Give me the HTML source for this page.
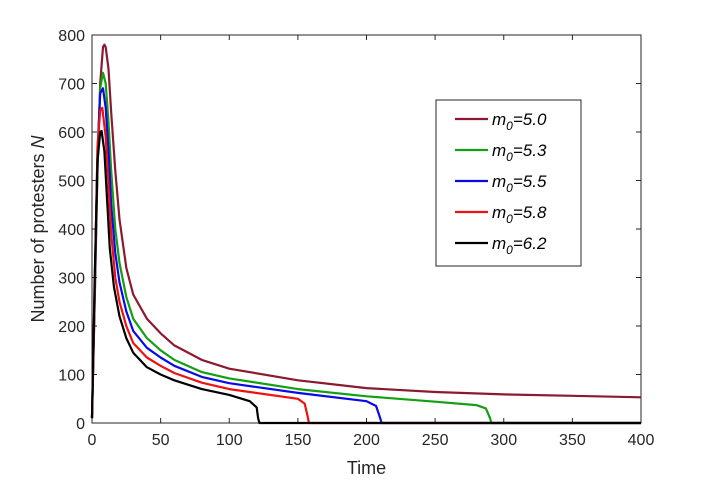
<!DOCTYPE html>
<html><head><meta charset="utf-8"><style>
body{margin:0;background:#fff}
svg{display:block;font-family:"Liberation Sans",Arial,sans-serif}
</style></head><body>
<svg width="710" height="481" viewBox="0 0 710 481">
<rect width="710" height="481" fill="#fff"/>
<g id="axes"></g>
<g id="series"></g>
<g id="legend"></g>
</svg>
<script>
const xTicks=[0,50,100,150,200,250,300,350,400];
const yTicks=[0,100,200,300,400,500,600,700,800];
const labels=["5.0","5.3","5.5","5.8","6.2"];
const colors=["#8b1a2e","#12a012","#0a0ae6","#ee1111","#000000"];
const t50=[0,2,4,6,8,9,10,12,14,17,20,25,30,40,50,60,80,100,150,200,250,300,350,400];
const v50=[10,250,520,700,775,780,775,730,640,520,420,320,265,215,185,160,130,112,88,72,64,59,56,53];
const t53=[0,2,4,6,8,10,12,14,17,20,25,30,40,50,60,80,100,150,200,250,280,287,290,291,400];
const v53=[10,260,540,690,722,700,620,520,400,330,260,215,175,150,130,105,92,70,55,44,37,30,10,0,0];
const t55=[0,2,4,6,8,10,12,14,17,20,25,30,40,50,60,80,100,150,200,207,210,211,400];
const v55=[10,270,560,680,690,650,560,450,350,290,230,190,155,135,118,95,82,62,45,35,10,0,0];
const t58=[0,2,4,6,7.5,10,12,14,17,20,25,30,40,50,60,80,100,150,155,157,158,400];
const v58=[10,280,570,645,650,590,490,390,300,250,200,165,135,118,103,83,70,50,40,15,0,0];
const t62=[0,2,4,6,7,9,11,13,16,20,25,30,40,50,60,80,100,115,120,121,122,400];
const v62=[10,300,540,600,602,560,460,360,280,220,175,145,115,100,88,70,58,45,32,10,0,0];
const X0=92,X1=641,Y0=423,Y1=35;
const xs=t=>X0+(t/400)*(X1-X0);
const ys=v=>Y0-(v/800)*(Y0-Y1);
const NS="http://www.w3.org/2000/svg";
function mk(tag,attrs,parent){const e=document.createElementNS(NS,tag);for(const k in attrs)e.setAttribute(k,attrs[k]);parent.appendChild(e);return e;}
const ax=document.getElementById("axes");
let box=mk("rect",{x:X0,y:Y1,width:X1-X0,height:Y0-Y1,fill:"none",stroke:"#262626","stroke-width":1},ax);


xTicks.forEach(t=>{
  const x=xs(t);
  mk("line",{x1:x,x2:x,y1:Y0,y2:Y0-5,stroke:"#262626"},ax);
  mk("line",{x1:x,x2:x,y1:Y1,y2:Y1+5,stroke:"#262626"},ax);
  const tx=mk("text",{x:x,y:Y0+22,"text-anchor":"middle","font-size":16,fill:"#262626"},ax);
  tx.textContent=t;
  
  
});
yTicks.forEach(v=>{
  const y=ys(v);
  mk("line",{x1:X0,x2:X0+5,y1:y,y2:y,stroke:"#262626"},ax);
  mk("line",{x1:X1,x2:X1-5,y1:y,y2:y,stroke:"#262626"},ax);
  const tx=mk("text",{x:X0-7,y:y+6,"text-anchor":"end","font-size":16,fill:"#262626"},ax);
  tx.textContent=v;
  
  
});
let xt=mk("text",{x:(X0+X1)/2,y:474,"text-anchor":"middle","font-size":18,fill:"#262626"},ax);
xt.textContent="Time";


let yt=mk("text",{x:0,y:0,"text-anchor":"middle","font-size":18,fill:"#262626",transform:"translate(44,229) rotate(-90)"},ax);
yt.innerHTML='Number of protesters  <tspan font-style="italic">N</tspan>';


const sg=document.getElementById("series");
const data=[[t50,v50],[t53,v53],[t55,v55],[t58,v58],[t62,v62]];
data.forEach((d,i)=>{
  const pts=d[0].map((t,j)=>xs(t).toFixed(1)+","+ys(d[1][j]).toFixed(1)).join(" ");
  const p=mk("polyline",{points:pts,fill:"none",stroke:colors[i],"stroke-width":2.2,"stroke-linejoin":"round"},sg);
  
  
});
const lg=document.getElementById("legend");
let lb=mk("rect",{x:436,y:100,width:145,height:166,fill:"#fff",stroke:"#262626"},lg);


labels.forEach((l,i)=>{
  const y=119+i*31;
  const g=mk("g",{},lg);
  
  
  mk("line",{x1:455,x2:488,y1:y,y2:y,stroke:colors[i],"stroke-width":2.2},g);
  const tx=mk("text",{x:492,y:y+6,"font-size":17,"font-style":"italic",fill:"#000"},g);
  tx.innerHTML='m<tspan font-size="12" dy="5">0</tspan><tspan dy="-5">='+l+'</tspan>';
});
</script>
</body></html>
